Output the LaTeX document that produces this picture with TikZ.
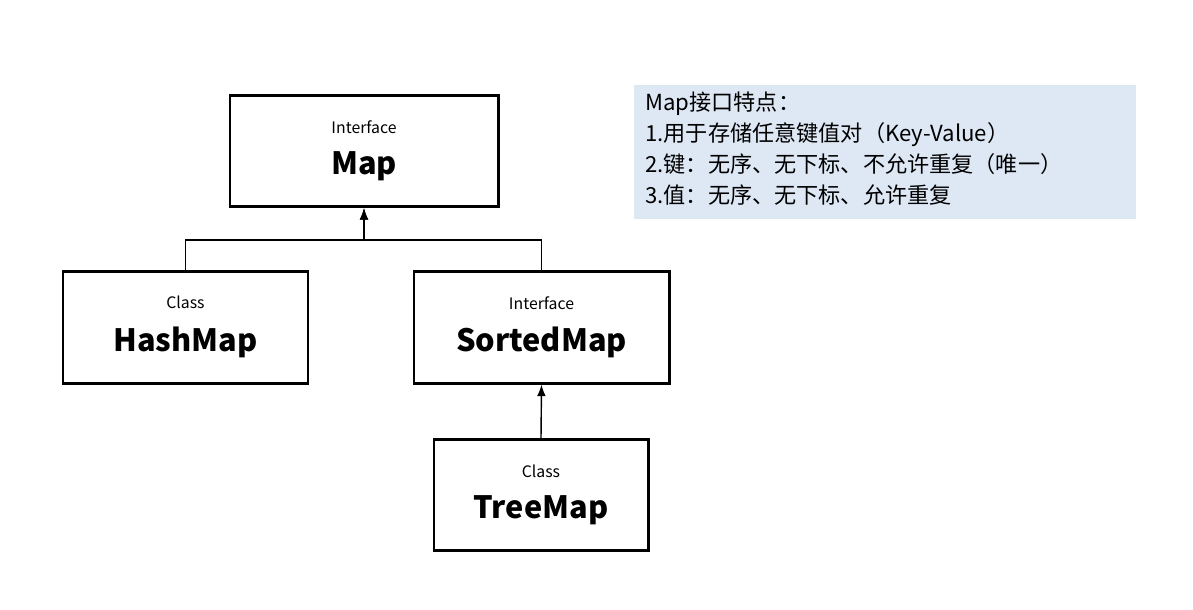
\documentclass[tikz,border=0pt]{standalone}
\usepackage{fontspec}
\setmainfont{Noto Sans CJK SC}
\usetikzlibrary{arrows.meta, positioning}
\definecolor{Ink}{HTML}{000000}
\definecolor{NoteBlue}{HTML}{DEE8F5}
\tikzset{
  typebox/.style={draw=Ink, line width=1.7pt, align=center, inner sep=0pt},
  link/.style={-Latex, line width=0.8pt, color=Ink},
  note/.style={align=left, anchor=north west, inner sep=0pt,
    font=\fontsize{12.6}{17.5}\selectfont, text width=9.8cm},
}
\newcommand{\typetext}[2]{{\fontsize{9}{10}\selectfont #1}\\[9pt]{\fontsize{17.5}{20}\selectfont\bfseries #2}}

\begin{document}
\begin{tikzpicture}[x=0.02cm, y=-0.02cm]
  \useasboundingbox (0,0) rectangle (1193,609);

  % Type boxes
  \node[typebox, minimum width=268*0.02cm, minimum height=111*0.02cm] (map) at (364,151) {\typetext{Interface}{Map}};
  \node[typebox, minimum width=245*0.02cm, minimum height=112*0.02cm] (hashmap) at (185.5,327) {\typetext{Class}{HashMap}};
  \node[typebox, minimum width=255*0.02cm, minimum height=112*0.02cm] (sortedmap) at (541.5,327) {\typetext{Interface}{SortedMap}};
  \node[typebox, minimum width=214*0.02cm, minimum height=111*0.02cm] (treemap) at (541,495) {\typetext{Class}{TreeMap}};

  % Inheritance
  \coordinate (join) at (364,240);
  \draw[link] (hashmap.north) |- (join) -- (map.south);
  \draw[link] (sortedmap.north) |- (join) -- (map.south);
  \draw[link] (treemap.north) -- (sortedmap.south);

  % Note
  \fill[NoteBlue] (634,85) rectangle (1136,219);
  \node[note] (notes) at (645,92) {Map接口特点：\\1.用于存储任意键值对（Key-Value）\\2.键：无序、无下标、不允许重复（唯一）\\3.值：无序、无下标、允许重复};
\end{tikzpicture}
\end{document}
